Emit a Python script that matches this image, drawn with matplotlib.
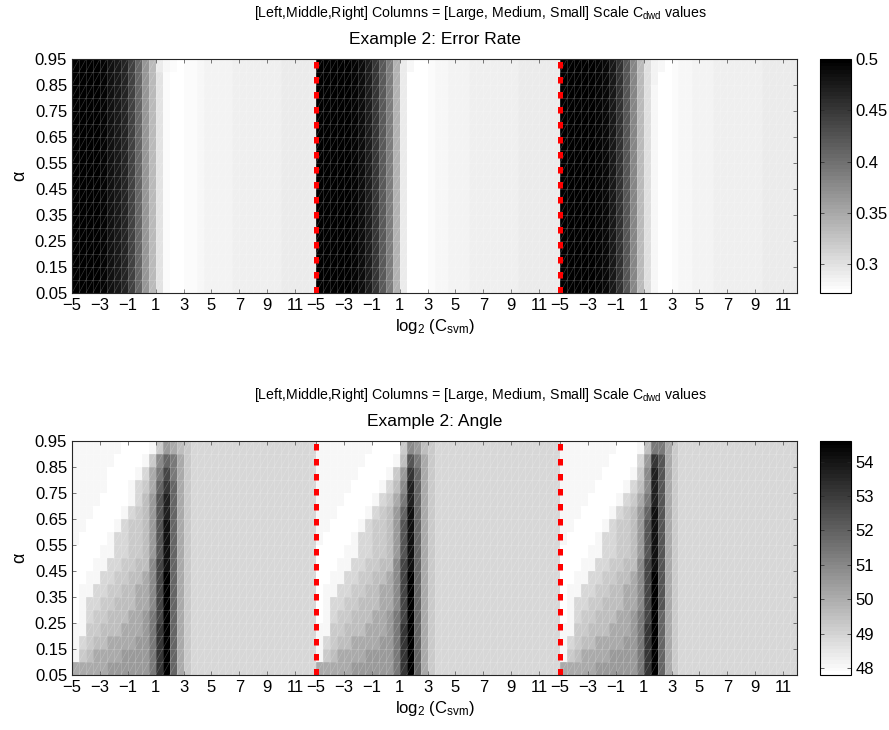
import matplotlib
matplotlib.use("Agg")
import matplotlib.pyplot as plt
import numpy as np
from matplotlib.collections import LineCollection

plt.rcParams['font.family'] = ['Liberation Sans', 'DejaVu Sans']
plt.rcParams['mathtext.fontset'] = 'custom'
plt.rcParams['mathtext.rm'] = 'Liberation Sans'
plt.rcParams['mathtext.it'] = 'Liberation Sans:italic'

# alpha grid (row edges) and log2(C_svm) tick labels of one block
alpha_edges = [0.05, 0.10, 0.15, 0.20, 0.25, 0.30, 0.35, 0.40, 0.45, 0.50,
               0.55, 0.60, 0.65, 0.70, 0.75, 0.80, 0.85, 0.90, 0.95]
alpha_ticks = [0.05, 0.15, 0.25, 0.35, 0.45, 0.55, 0.65, 0.75, 0.85, 0.95]
csvm_tick_labels = ["\u22125", "\u22123", "\u22121", "1", "3", "5", "7", "9", "11"]
n_cols_block = 35   # log2(C_svm) = -5 : 0.5 : 12

# error rate by log2(C_svm) column, one profile per C_dwd block (Large, Medium, Small)
err_large = [0.500, 0.500, 0.499, 0.497, 0.493, 0.484, 0.477, 0.466, 0.440, 0.409,
             0.365, 0.333, 0.300, 0.276, 0.272, 0.273, 0.276, 0.279, 0.281, 0.283,
             0.284, 0.285, 0.286, 0.287, 0.287, 0.288, 0.288, 0.289, 0.289, 0.289,
             0.290, 0.290, 0.290, 0.290, 0.290]
err_medium = [0.500, 0.500, 0.500, 0.499, 0.497, 0.494, 0.487, 0.472, 0.452, 0.420,
              0.386, 0.340, 0.290, 0.274, 0.272, 0.273, 0.277, 0.280, 0.282, 0.284,
              0.285, 0.286, 0.287, 0.287, 0.288, 0.288, 0.289, 0.289, 0.289, 0.290,
              0.290, 0.290, 0.290, 0.290, 0.290]
err_small = [0.500, 0.500, 0.500, 0.499, 0.498, 0.495, 0.490, 0.478, 0.454, 0.425,
             0.379, 0.333, 0.302, 0.281, 0.273, 0.272, 0.277, 0.280, 0.282, 0.284,
             0.285, 0.286, 0.287, 0.287, 0.288, 0.288, 0.289, 0.289, 0.289, 0.290,
             0.290, 0.290, 0.290, 0.290, 0.290]
# top two alpha rows (0.90, 0.85) differ slightly near the white band: (block, col, value)
err_top_row = [(0, 12, 0.292), (0, 13, 0.282), (0, 14, 0.279),
               (1, 12, 0.290), (1, 13, 0.280), (2, 13, 0.284), (2, 14, 0.280)]
err_second_row = [(0, 12, 0.298), (0, 13, 0.279), (1, 12, 0.293), (2, 13, 0.283)]

# angle levels (hex code -> angle in degrees)
angle_levels = [47.80, 48.10, 48.95, 49.25, 49.60, 50.05, 50.50, 50.95,
                51.40, 51.85, 52.30, 52.75, 53.20, 53.65, 54.15, 54.60]

# angle cells, rows from alpha 0.90-0.95 (top) down to 0.05-0.10 (bottom)
angle_large = [
    "1111111000013654" "3222222222222222222",
    "1111110000137985" "3222222222222222222",
    "1111100001258b85" "3222222222222222222",
    "1111100012359c95" "3222222222222222222",
    "111100001246ad95" "3222222222222222222",
    "111000012346ad95" "3222222222222222222",
    "110000123346ae95" "3222222222222222222",
    "100001223346ae95" "3222222222222222222",
    "000011223346ae95" "3222222222222222222",
    "000112233447be95" "3222222222222222222",
    "001122334457bf95" "3222222222222222222",
    "011223344557bf95" "3222222222222222222",
    "012233444557bf95" "3222222222222222222",
    "012334445568bf95" "3222222222222222222",
    "113344455568cf95" "3222222222222222222",
    "123445555668cf95" "3222222222222222222",
    "134555566668cf95" "3222222222222222222",
    "555556666668cf95" "3222222222222222222",
]
angle_medium = [
    "1111111100003764" "3222222222222222222",
    "1111111000014a85" "3222222222222222222",
    "1111110000136c95" "3222222222222222222",
    "1111100001247d95" "3222222222222222222",
    "1111000012358d95" "3222222222222222222",
    "1110000123469e95" "3222222222222222222",
    "110000123346ae95" "3222222222222222222",
    "100001223346ae95" "3222222222222222222",
    "000011223346ae95" "3222222222222222222",
    "000112233447be95" "3222222222222222222",
    "001122334457bf95" "3222222222222222222",
    "011223344557bf95" "3222222222222222222",
    "012233444557bf95" "3222222222222222222",
    "012334445568bf95" "3222222222222222222",
    "113344455568cf95" "3222222222222222222",
    "123445555668cf95" "3222222222222222222",
    "134555566668cf95" "3222222222222222222",
    "555556666668cf95" "3222222222222222222",
]
angle_small = [
    "1111111100014885" "3222222222222222222",
    "1111111000026ca5" "3222222222222222222",
    "1111110000137da5" "3222222222222222222",
    "1111100001247da5" "3222222222222222222",
    "1111000012358da5" "3222222222222222222",
    "1110000123469ea5" "3222222222222222222",
    "110000123346aea5" "3222222222222222222",
    "100001223346aea5" "3222222222222222222",
    "000011223346aea5" "3222222222222222222",
    "000112233447bea5" "3222222222222222222",
    "001122334457bfa5" "3222222222222222222",
    "011223344557bfa5" "3222222222222222222",
    "012233444557bfa5" "3222222222222222222",
    "012334445568bf95" "3222222222222222222",
    "113344455568cf95" "3222222222222222222",
    "123445555668cf95" "3222222222222222222",
    "134555566668cf95" "3222222222222222222",
    "555556666668cf95" "3222222222222222222",
]

n_rows = len(alpha_edges) - 1


def error_grid():
    blocks = [np.tile(np.array(p, dtype=float), (n_rows, 1))
              for p in (err_large, err_medium, err_small)]
    for b, c, v in err_top_row:
        blocks[b][-1, c] = v
    for b, c, v in err_second_row:
        blocks[b][-2, c] = v
    grid = np.hstack(blocks)
    return grid[:, :3 * n_cols_block - 1]


def angle_grid():
    blocks = []
    for rows in (angle_large, angle_medium, angle_small):
        b = np.array([[angle_levels[int(ch, 16)] for ch in r] for r in rows])
        blocks.append(b[::-1])   # bottom row first
    grid = np.hstack(blocks)
    return grid[:, :3 * n_cols_block - 1]


def draw_panel(ax, cax, grid, vmin, vmax, cticks, cticklabels, subtitle):
    ny, nx = grid.shape
    x_edges = np.arange(nx + 1)
    y_edges = np.array(alpha_edges)
    cmap = plt.get_cmap('gray_r', 64)
    mesh = ax.pcolormesh(x_edges, y_edges, grid, cmap=cmap, vmin=vmin, vmax=vmax)

    # faint triangle seams of the exported surface
    segs = []
    for x in x_edges:
        segs.append([(x, y_edges[0]), (x, y_edges[-1])])
    for y in y_edges:
        segs.append([(x_edges[0], y), (x_edges[-1], y)])
    for i in range(ny):
        for j in range(nx):
            segs.append([(j, y_edges[i]), (j + 1, y_edges[i + 1])])
    ax.add_collection(LineCollection(segs, colors='white', linewidths=0.4, alpha=0.25))

    # red dashed separators between C_dwd blocks
    for xb in (n_cols_block, 2 * n_cols_block):
        ax.plot([xb, xb], [y_edges[0], y_edges[-1]], color='#ff0000', lw=3.6,
                linestyle=(0, (1.3, 1.7)), dash_capstyle='butt', solid_capstyle='butt')

    ax.set_xlim(0, nx)
    ax.set_ylim(y_edges[0], y_edges[-1])
    xt = [b * n_cols_block + 4 * k for b in range(3) for k in range(len(csvm_tick_labels))]
    ax.set_xticks(xt)
    ax.set_xticklabels(csvm_tick_labels * 3)
    ax.set_yticks(alpha_ticks)
    ax.set_yticklabels(["%.2f" % a for a in alpha_ticks])
    ax.tick_params(direction='in', length=3, width=0.5, top=True, right=True,
                   labelsize=12, colors='#262626', labelcolor='black')
    for s in ax.spines.values():
        s.set_linewidth(0.8)
        s.set_color('#262626')
    ax.set_xlabel(r"log$_2$ (C$_{\mathrm{svm}}$)", fontsize=12, labelpad=3)
    ax.set_ylabel("\u03b1", fontsize=13, labelpad=5)
    ax.text(0.563, 1.197,
            r"[Left,Middle,Right] Columns = [Large, Medium, Small] Scale C$_{\mathrm{dwd}}$ values",
            transform=ax.transAxes, ha='center', va='center', fontsize=10.2)
    ax.text(0.5, 1.082, subtitle, transform=ax.transAxes, ha='center', va='center',
            fontsize=12.5)

    cb = ax.figure.colorbar(mesh, cax=cax)
    cb.set_ticks(cticks)
    cb.set_ticklabels(cticklabels)
    cb.outline.set_linewidth(0.8)
    cax.tick_params(direction='in', length=3, width=0.5, left=True, right=True,
                    labelsize=12, colors='#262626', labelcolor='black')


def main():
    fig = plt.figure(figsize=(8.89, 7.30), dpi=100)
    W, H = 889.0, 730.0
    ax1 = fig.add_axes([72 / W, 1 - 293 / H, 725 / W, 234 / H])
    cax1 = fig.add_axes([820 / W, 1 - 293 / H, 31 / W, 234 / H])
    ax2 = fig.add_axes([72 / W, 1 - 675 / H, 725 / W, 234 / H])
    cax2 = fig.add_axes([820 / W, 1 - 675 / H, 31 / W, 234 / H])

    draw_panel(ax1, cax1, error_grid(), 0.272, 0.5,
               [0.3, 0.35, 0.4, 0.45, 0.5], ["0.3", "0.35", "0.4", "0.45", "0.5"],
               "Example 2: Error Rate")
    draw_panel(ax2, cax2, angle_grid(), 47.8, 54.6,
               [48, 49, 50, 51, 52, 53, 54], ["48", "49", "50", "51", "52", "53", "54"],
               "Example 2: Angle")

    fig.savefig("out.png", dpi=100)


main()
